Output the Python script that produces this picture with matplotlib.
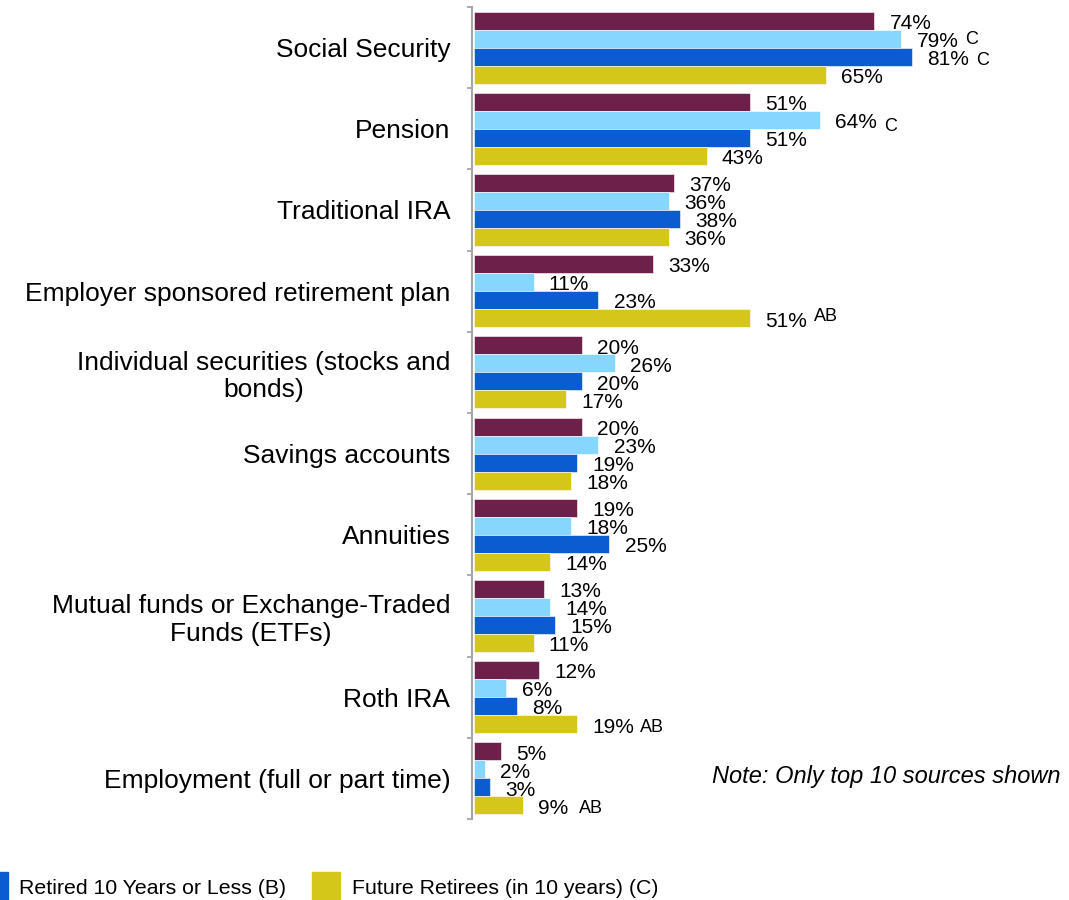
import matplotlib
matplotlib.use('Agg')
from matplotlib import pyplot as plt
from matplotlib.patches import Rectangle
import numpy as np

plt.rcParams['font.family'] = ['Liberation Sans', 'DejaVu Sans']

# income sources, top to bottom
sources = ['Social Security', 'Pension', 'Traditional IRA',
           'Employer sponsored retirement plan',
           'Individual securities (stocks and\nbonds)', 'Savings accounts',
           'Annuities', 'Mutual funds or Exchange-Traded\nFunds (ETFs)',
           'Roth IRA', 'Employment (full or part time)']

# share of respondents (%) for each group
all_respondents = [74, 51, 37, 33, 20, 20, 19, 13, 12, 5]
retired_over_10 = [79, 64, 36, 11, 26, 23, 18, 14, 6, 2]     # (A)
retired_10_or_less = [81, 51, 38, 23, 20, 19, 25, 15, 8, 3]  # (B)
future_retirees = [65, 43, 36, 51, 17, 18, 14, 11, 19, 9]    # (C)

series = [all_respondents, retired_over_10, retired_10_or_less, future_retirees]
colors = ['#6D2049', '#87D6FF', '#0B5CD0', '#D4C719']

# significance letters: (source index, series index, text, dx pt, dy pt)
sig_letters = [(0, 1, 'C', 5, 1), (0, 2, 'C', 5, -1), (1, 1, 'C', 5, -3),
               (3, 3, 'AB', 5, 3), (8, 3, 'AB', 4, 0), (9, 3, 'AB', 8, 0)]

W, H = 1069, 900
fig = plt.figure(figsize=(W / 100, H / 100), dpi=100)
ax = fig.add_axes([472 / W, 1 - 819 / H, (W - 472) / W, 812 / H])

y = np.arange(len(sources))
bar_h = 0.222
labels = {}
for j, (vals, c) in enumerate(zip(series, colors)):
    pos = y + (j - 1.5) * bar_h
    ax.barh(pos, vals, height=bar_h, color=c, edgecolor='white', linewidth=0.4)
    for i, (p, v) in enumerate(zip(pos, vals)):
        labels[(i, j)] = ax.annotate(f'{v}%', xy=(v, p), xytext=(11, -2),
                                     textcoords='offset points', ha='left',
                                     va='center', fontsize=15)

for i, j, txt, dx, dy in sig_letters:
    ax.annotate(txt, xy=(1, 0.5), xycoords=labels[(i, j)], xytext=(dx, dy),
                textcoords='offset points', ha='left', va='center', fontsize=13)

ax.set_xlim(-0.37, 110)
ax.set_ylim(len(sources) - 0.5, -0.5)

ax.set_yticks(y, sources, fontsize=19)
for t in ax.get_yticklabels():
    t.set_multialignment('center')
    t.set_linespacing(1.18)
ax.set_yticks(np.arange(-0.5, len(sources)), minor=True)
ax.tick_params(axis='y', which='major', length=0, pad=15.5)
ax.tick_params(axis='y', which='minor', length=3.6, width=1.3, color='#A6A6A6')
ax.set_xticks([])
for side in ['top', 'right', 'bottom']:
    ax.spines[side].set_visible(False)
ax.spines['left'].set_color('#A6A6A6')
ax.spines['left'].set_linewidth(1.5)

fig.text(1060 / W, 1 - 777 / H, 'Note: Only top 10 sources shown',
         ha='right', va='center', style='italic', fontsize=17)

# legend row along the bottom edge
for x0, c, txt, tx in [(-20, colors[2], 'Retired 10 Years or Less (B)', 19),
                       (312, colors[3], 'Future Retirees (in 10 years) (C)', 352)]:
    fig.add_artist(Rectangle((x0 / W, 0), 28 / W, 28 / H, color=c,
                             transform=fig.transFigure))
    fig.text(tx / W, 12 / H, txt, ha='left', va='center', fontsize=15.3)

fig.savefig('out.png', dpi=100)
